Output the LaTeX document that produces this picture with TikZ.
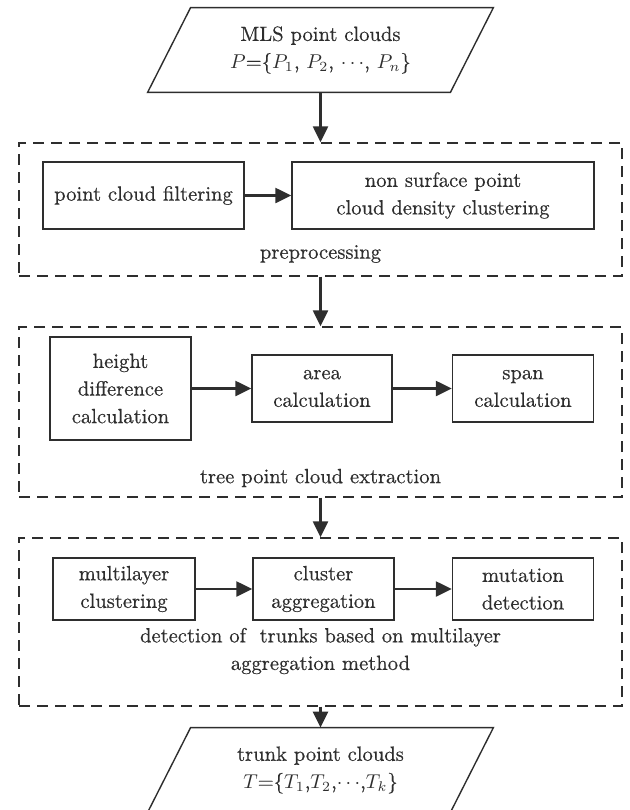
\documentclass[tikz,border=0pt]{standalone}
\usepackage{fontspec}
\setmainfont{Latin Modern Roman}[FakeBold=0.5]
\usetikzlibrary{arrows.meta,calc}
\definecolor{ln}{HTML}{2E2E2E}
\begin{document}
\begin{tikzpicture}[x=0.5pt,y=-0.5pt,
  box/.style={draw=ln,line width=0.7pt,inner sep=0pt,align=center,text=ln,font=\fontsize{10.3}{13.8}\selectfont},
  plain/.style={inner sep=0pt,align=center,text=ln,font=\fontsize{10.3}{13.8}\selectfont},
  frame/.style={draw=ln,line width=0.7pt,dash pattern=on 5.5pt off 3.5pt,inner sep=0pt},
  arr/.style={draw=ln,line width=1.2pt,-{Triangle[length=8pt,width=7.5pt]}},
  para/.style={draw=ln,line width=0.7pt,line join=miter},
]
\useasboundingbox (0,0) rectangle (629,810);

% top input
\node[plain,minimum width=172.5pt,minimum height=42pt] (mls) at (320.5,50)
  {MLS point clouds\\$P$=\{$P_1$, $P_2$, $\cdots$, $P_n$\}};
\draw[para] ($(mls.north west)+(43,0)$) -- (mls.north east) -- ($(mls.south east)-(43,0)$) -- (mls.south west) -- cycle;

% preprocessing
\node[frame,minimum width=301.5pt,minimum height=66.5pt] (pre) at (320.5,209.5) {};
\node[box,minimum width=100.5pt,minimum height=33.5pt] (filt) at (143.5,195.5) {point cloud filtering};
\node[box,minimum width=151pt,minimum height=33.5pt] (nsc) at (443,195.5) {non surface point\\cloud density clustering};
\node[plain] (pretxt) at (320.5,254) {preprocessing};

% tree point cloud extraction
\node[frame,minimum width=301.5pt,minimum height=85pt] (tree) at (320.5,412) {};
\node[box,minimum width=70.5pt,minimum height=51.5pt] (hd) at (120.5,388.5) {height\\difference\\calculation};
\node[box,minimum width=70pt,minimum height=33.5pt] (area) at (322,388.5) {area\\calculation};
\node[box,minimum width=70.5pt,minimum height=33.5pt] (span) at (523,388.5) {span\\calculation};
\node[plain] (treetxt) at (320.5,478) {tree point cloud extraction};

% trunk detection
\node[frame,minimum width=301.5pt,minimum height=84pt] (det) at (320.5,622) {};
\node[box,minimum width=71pt,minimum height=31pt] (ml) at (124,589) {multilayer\\clustering};
\node[box,minimum width=70.5pt,minimum height=31pt] (ca) at (323.5,589) {cluster\\aggregation};
\node[box,minimum width=70.5pt,minimum height=31pt] (mu) at (523,589) {mutation\\detection};
\node[plain] (dettxt) at (320.5,651) {detection of\ \ trunks based on multilayer\\aggregation method};

% output
\node[plain,minimum width=172.5pt,minimum height=42pt] (trk) at (320.5,770)
  {trunk point clouds\\$T$=\{$T_1$,$T_2$,$\cdots$,$T_k$\}};
\draw[para] ($(trk.north west)+(43,0)$) -- (trk.north east) -- ($(trk.south east)-(43,0)$) -- (trk.south west) -- cycle;

% connectors
\draw[arr] (mls.south) -- (pre.north);
\draw[arr] (pre.south) -- (tree.north);
\draw[arr] (tree.south) -- (det.north);
\draw[arr] (det.south) -- (trk.north);
\draw[arr] (filt.east) -- (nsc.west);
\draw[arr] (hd.east) -- (area.west);
\draw[arr] (area.east) -- (span.west);
\draw[arr] (ml.east) -- (ca.west);
\draw[arr] (ca.east) -- (mu.west);
\end{tikzpicture}
\end{document}
